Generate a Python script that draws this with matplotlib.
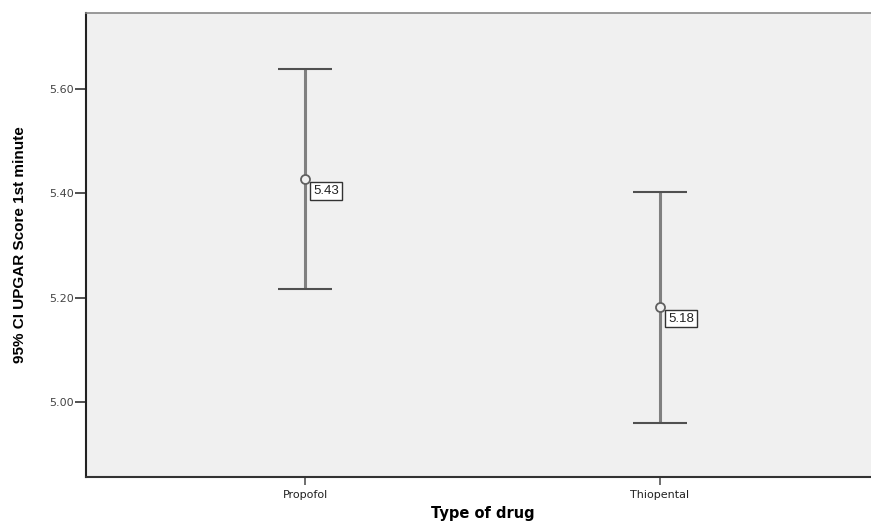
import numpy as np
import matplotlib.pyplot as plt

# Values
drugs = ['Propofol', 'Thiopental']
means = [5.427, 5.182]
upper = [5.638, 5.402]
lower = [5.216, 4.960]
labels = ['5.43', '5.18']
yticks = [5.00, 5.20, 5.40, 5.60]

fig = plt.figure(figsize=(8.71, 5.25), dpi=100)
W, H = 871, 525
left, right, top, bottom = 86, 879, 13, 477
ax = fig.add_axes([left / W, 1 - bottom / H, (right - left) / W, (bottom - top) / H])
ax.set_facecolor('#f0f0f0')

x = np.arange(len(drugs))
m = np.array(means)
err = np.vstack([m - np.array(lower), np.array(upper) - m])

# vertical CI lines
ax.vlines(x, lower, upper, color='#808080', linewidth=2.2, zorder=2)
# caps
ax.errorbar(x, means, yerr=err, fmt='none', ecolor='#505050', elinewidth=0,
            capsize=19.5, capthick=1.5, zorder=3)
ax.plot(x, means, 'o', markersize=6.5, markerfacecolor='#f0f0f0',
        markeredgecolor='#606060', markeredgewidth=1.3, zorder=4)

for xi, yi, lab in zip(x, means, labels):
    ax.annotate(lab, (xi, yi), xytext=(6, -4), textcoords='offset points',
                ha='left', va='top', fontsize=9.5, color='#222222',
                family='Liberation Sans',
                bbox=dict(boxstyle='square,pad=0.22', facecolor='white',
                          edgecolor='#333333', linewidth=1.0))

ax.set_xlim(-0.617, 1.617)
ax.set_ylim(4.856, 5.746)
ax.set_xticks(x)
ax.set_xticklabels(drugs, fontsize=8, color='#222222')
ax.set_yticks(yticks)
ax.set_yticklabels([f'{v:.2f}' for v in yticks], fontsize=8, color='#444444')
ax.tick_params(axis='y', length=8, width=1.2, color='#333333', pad=1)
ax.tick_params(axis='x', length=6, width=1.2, color='#555555', pad=3)

ax.spines['left'].set_color('#222222')
ax.spines['left'].set_linewidth(1.5)
ax.spines['bottom'].set_color('#333333')
ax.spines['bottom'].set_linewidth(1.5)
ax.spines['top'].set_color('#888888')
ax.spines['top'].set_linewidth(1.2)
ax.spines['right'].set_visible(False)

ax.set_ylabel('95% CI UPGAR Score 1st minute', fontsize=11, fontweight='bold',
              family='Liberation Sans', labelpad=16)
ax.set_xlabel('Type of drug', fontsize=10.5, fontweight='bold', labelpad=5)

fig.savefig('out.png', dpi=100)
